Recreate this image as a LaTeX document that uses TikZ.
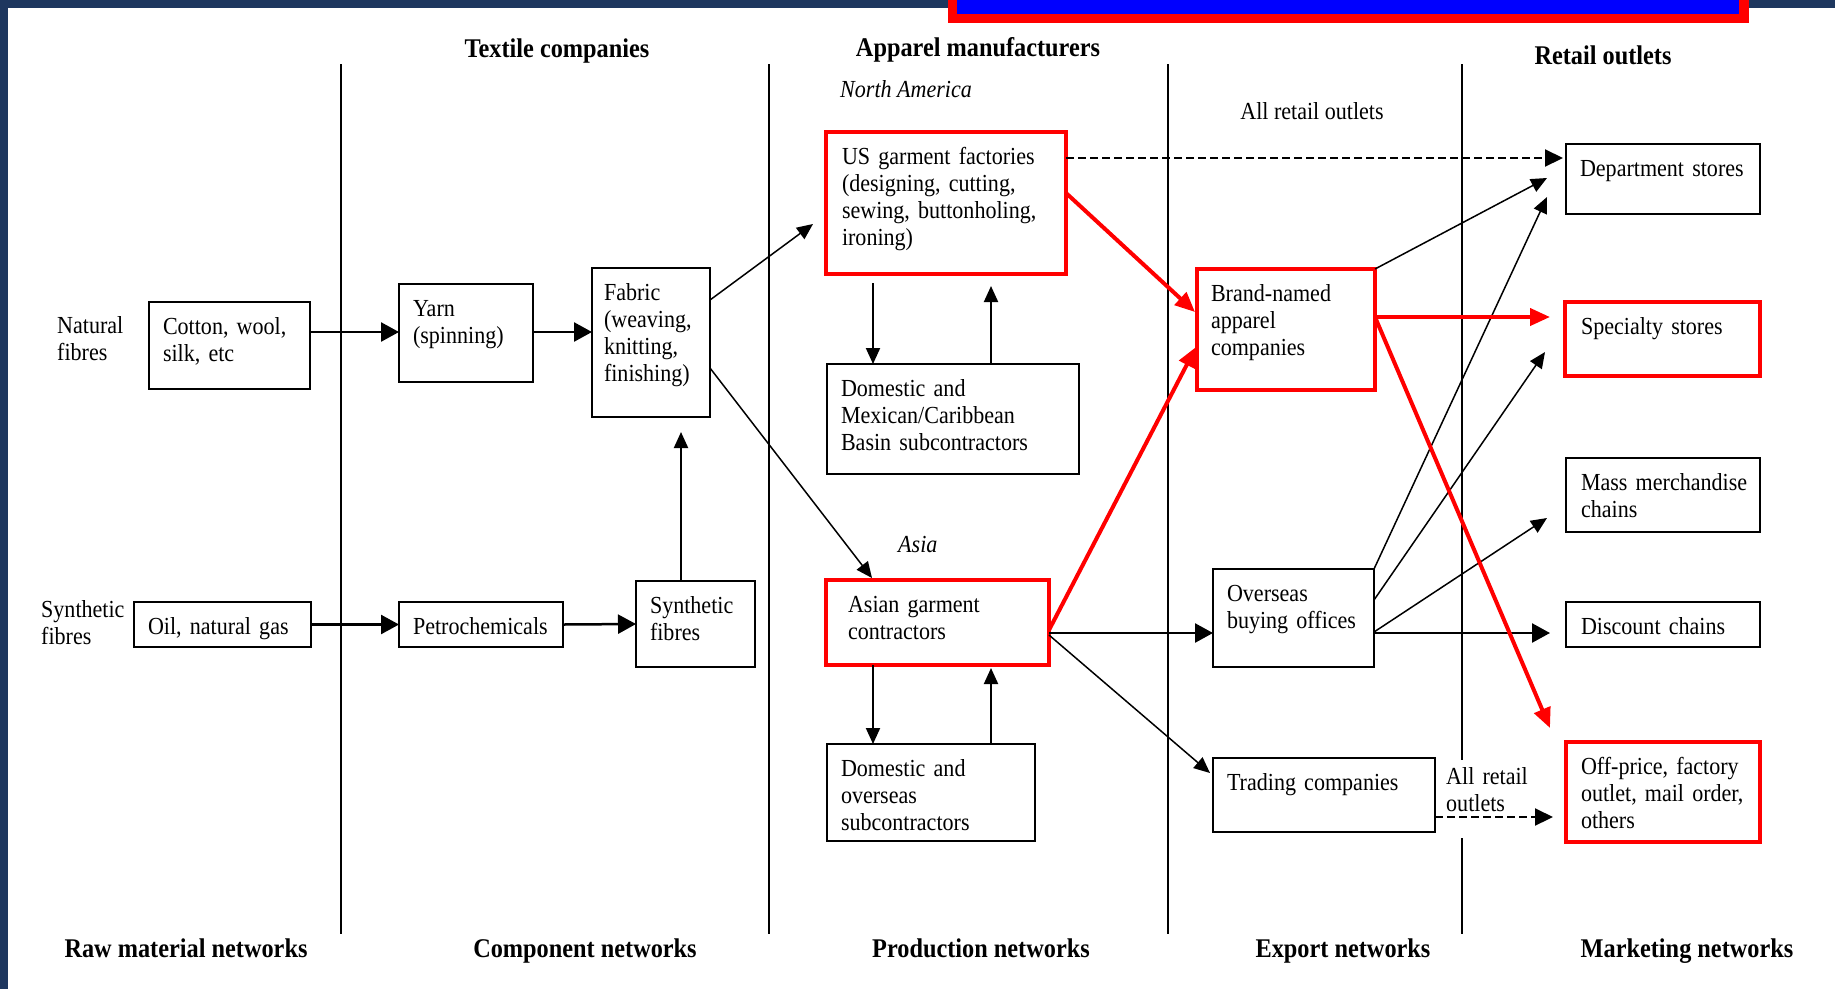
\documentclass[tikz,border=0pt]{standalone}
\usepackage{fontspec}
\setmainfont{Liberation Serif}[FakeStretch=0.9]
\usetikzlibrary{arrows.meta,calc}
\definecolor{bgnavy}{RGB}{30,55,95}

\begin{document}
\begin{tikzpicture}[
  x=1pt,
  y=-1pt,
  line join=miter,
  frame/.style={draw, line width=2pt, anchor=north west,
    inner sep=0pt, outer sep=0pt},
  redframe/.style={frame, draw=red, line width=4pt},
  boxtext/.style={anchor=north west, align=left, text width=230pt,
    inner xsep=14pt, inner ysep=15pt, outer sep=0pt, text height=17pt,
    font=\fontsize{24.5}{27}\selectfont},
  sidetext/.style={align=left, inner sep=0pt,
    font=\fontsize{24.5}{27}\selectfont},
  regiontext/.style={sidetext, anchor=base west,
    font=\fontsize{24.5}{27}\selectfont\itshape},
  heading/.style={anchor=base, inner sep=0pt,
    font=\fontsize{27}{30}\selectfont\bfseries},
  arr/.style={line width=1.5pt, -{Triangle[length=16pt,width=14pt]}},
  thickarr/.style={line width=2.5pt, -{Triangle[length=18pt,width=19pt]}},
  redarr/.style={draw=red, line width=4pt,
    -{Triangle[length=20pt,width=17pt]}},
  dasharr/.style={line width=2pt, dash pattern=on 8pt off 4pt,
    -{Triangle[length=18pt,width=17pt]}}
]
  % Фон
  \useasboundingbox (0,0) rectangle (1835,989);
  \fill[bgnavy] (0,0) rectangle (1835,989);
  \fill[white] (8,8) rectangle (1835,989);
  \fill[red] (948,0) rectangle (1749,23);
  \fill[blue] (957,0) rectangle (1739,14);

  % Разделители
  \draw[line width=2pt] (341,64) -- (341,934);
  \draw[line width=2pt] (769,64) -- (769,934);
  \draw[line width=2pt] (1168,64) -- (1168,934);
  \draw[line width=2pt] (1462,64) -- (1462,760);
  \draw[line width=2pt] (1462,838) -- (1462,934);

  % Заголовки
  \node[heading] (textile) at (557,57) {Textile companies};
  \node[heading] (apparel) at (978,56) {Apparel manufacturers};
  \node[heading] (retail) at (1603,64) {Retail outlets};
  \node[heading] (rawnet) at (186,957) {Raw material networks};
  \node[heading] (compnet) at (585,957) {Component networks};
  \node[heading] (prodnet) at (981,957) {Production networks};
  \node[heading] (expnet) at (1343,957) {Export networks};
  \node[heading] (marknet) at (1687,957) {Marketing networks};

  % Подписи
  \node[sidetext, anchor=north west, text width=90pt, text height=17pt]
    (natural) at (57,316) {Natural\\fibres};
  \node[sidetext, anchor=north west, text width=90pt, text height=17pt]
    (synthetic) at (41,600) {Synthetic\\fibres};
  \node[regiontext] (namerica) at (840,97) {North America};
  \node[regiontext] (asia) at (898,552) {Asia};
  \node[sidetext, anchor=base] (allretail) at (1312,119) {All retail outlets};
  \node[sidetext, anchor=north west, text width=90pt, text height=17pt]
    (allretailb) at (1446,767) {All retail\\outlets};

  % Сырьё и компоненты
  \node[frame, minimum width=161pt, minimum height=87pt,
    label={[boxtext]north west:Cotton, wool,\\silk, etc}]
    (cotton) at (149,302) {};
  \node[frame, minimum width=134pt, minimum height=98pt,
    label={[boxtext]north west:Yarn\\(spinning)}]
    (yarn) at (399,284) {};
  \node[frame, minimum width=118pt, minimum height=149pt,
    label={[boxtext, inner xsep=12pt]north west:Fabric\\(weaving,\\knitting,\\finishing)}]
    (fabric) at (592,268) {};
  \node[frame, minimum width=177pt, minimum height=45pt,
    label={[boxtext]north west:Oil, natural gas}]
    (oil) at (134,602) {};
  \node[frame, minimum width=164pt, minimum height=45pt,
    label={[boxtext]north west:Petrochemicals}]
    (petro) at (399,602) {};
  \node[frame, minimum width=119pt, minimum height=86pt,
    label={[boxtext]north west:Synthetic\\fibres}]
    (synth) at (636,581) {};

  % Производство
  \node[redframe, minimum width=240pt, minimum height=142pt,
    label={[boxtext, inner xsep=16pt]north west:US garment factories\\(designing, cutting,\\sewing, buttonholing,\\ironing)}]
    (usgarm) at (826,132) {};
  \node[frame, minimum width=252pt, minimum height=110pt,
    label={[boxtext]north west:Domestic and\\Mexican/Caribbean\\Basin subcontractors}]
    (mexsub) at (827,364) {};
  \node[redframe, minimum width=223pt, minimum height=85pt,
    label={[boxtext, inner xsep=22pt]north west:Asian garment\\contractors}]
    (asian) at (826,580) {};
  \node[frame, minimum width=208pt, minimum height=97pt,
    label={[boxtext]north west:Domestic and\\overseas\\subcontractors}]
    (ovsub) at (827,744) {};

  % Экспорт
  \node[redframe, minimum width=178pt, minimum height=121pt,
    label={[boxtext]north west:Brand-named\\apparel\\companies}]
    (brand) at (1197,269) {};
  \node[frame, minimum width=161pt, minimum height=98pt,
    label={[boxtext]north west:Overseas\\buying offices}]
    (buying) at (1213,569) {};
  \node[frame, minimum width=222pt, minimum height=74pt,
    label={[boxtext]north west:Trading companies}]
    (trading) at (1213,758) {};

  % Розница
  \node[frame, minimum width=194pt, minimum height=70pt,
    label={[boxtext]north west:Department stores}]
    (dept) at (1566,144) {};
  \node[redframe, minimum width=195pt, minimum height=74pt,
    label={[boxtext, inner xsep=16pt]north west:Specialty stores}]
    (special) at (1565,302) {};
  \node[frame, minimum width=194pt, minimum height=74pt,
    label={[boxtext, inner xsep=15pt]north west:Mass merchandise\\chains}]
    (mass) at (1566,458) {};
  \node[frame, minimum width=194pt, minimum height=45pt,
    label={[boxtext, inner xsep=15pt]north west:Discount chains}]
    (discount) at (1566,602) {};
  \node[redframe, minimum width=194pt, minimum height=100pt,
    label={[boxtext, inner xsep=15pt]north west:Off-price, factory\\outlet, mail order,\\others}]
    (offprice) at (1566,742) {};

  % Стрелки: сырьё -> ткань
  \draw[thickarr] ($(cotton.north east)+(0,30)$) -- ($(yarn.north west)+(0,48)$);
  \draw[thickarr] ($(yarn.north east)+(0,48)$) -- ($(fabric.north west)+(0,64)$);
  \draw[thickarr] (oil.east) -- (petro.west);
  \draw[thickarr] (petro.east) -- (synth.west);
  \draw[arr, line width=2pt]
    ($(synth.north west)+(45,0)$) -- ($(fabric.south west)+(89,15)$);

  % Стрелки: ткань -> производство
  \draw[arr] ($(fabric.north east)+(0,32)$) -- ($(usgarm.north west)+(-13,92)$);
  \draw[arr] ($(fabric.north east)+(0,100)$) -- ($(asian.north west)+(46,-2)$);
  \draw[arr, line width=2pt]
    ($(usgarm.south west)+(47,9)$) -- ($(mexsub.north west)+(46,0)$);
  \draw[arr, line width=2pt]
    ($(mexsub.north west)+(164,0)$) -- ($(usgarm.south west)+(165,12)$);
  \draw[arr, line width=2pt]
    ($(asian.south west)+(47,0)$) -- ($(ovsub.north west)+(46,0)$);
  \draw[arr, line width=2pt]
    ($(ovsub.north west)+(164,0)$) -- ($(asian.south west)+(165,3)$);

  % Стрелки: экспорт и розница
  \draw[dasharr] ($(usgarm.north east)+(0,26)$) -- ($(dept.north west)+(-3,14)$);
  \draw[thickarr] ($(asian.north east)+(0,53)$) -- ($(buying.north west)+(0,64)$);
  \draw[arr] ($(asian.north east)+(0,55)$) -- ($(trading.north west)+(-3,15)$);
  \draw[arr] (brand.north east) -- ($(dept.north west)+(-19,34)$);
  \draw[arr] (buying.north east) -- ($(dept.north west)+(-19,53)$);
  \draw[arr] ($(buying.north east)+(0,31)$) -- ($(special.north west)+(-20,50)$);
  \draw[arr] ($(buying.north east)+(0,63)$) -- ($(mass.north west)+(-19,60)$);
  \draw[thickarr] ($(buying.north east)+(0,64)$) -- ($(discount.north west)+(-16,31)$);
  \draw[dasharr] ($(trading.north east)+(0,59)$) -- ($(offprice.north west)+(-13,75)$);

  % Красные стрелки
  \draw[redarr] ($(usgarm.north east)+(0,61)$) -- ($(brand.north west)+(-2,43)$);
  \draw[redarr] ($(asian.north east)+(0,50)$) -- ($(brand.north west)+(-1,78)$);
  \draw[redarr] ($(brand.north east)+(0,48)$) -- ($(special.north west)+(-15,15)$);
  \draw[redarr] ($(brand.north east)+(0,48)$) -- ($(offprice.north west)+(-16,-14)$);
\end{tikzpicture}
\end{document}
